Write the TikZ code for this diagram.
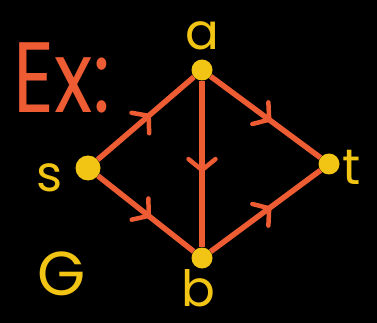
\documentclass[tikz,border=0pt]{standalone}
\usepackage{fontspec}
\setmainfont{Poppins}
\usetikzlibrary{arrows.meta,positioning,decorations.markings}
\definecolor{exorange}{RGB}{238,92,52}
\definecolor{exyellow}{RGB}{242,196,20}

\begin{document}
\begin{tikzpicture}[
  x=1pt, y=-1pt,
  vtx/.style={circle, fill=exyellow, inner sep=0pt, minimum size=21pt},
  lbl/.style={text=exyellow, inner sep=0pt, font=\fontsize{50}{50}\selectfont},
  edge/.style={exorange, line width=5.5pt,
    decoration={markings, mark=at position 0.55 with {\arrow{Straight Barb[length=11pt,width=27pt,line width=4.5pt,round]}}},
    postaction={decorate}}
]
\fill[black] (0,0) rectangle (377,323);
\useasboundingbox (0,0) rectangle (377,323);
% vertices
\node[vtx, minimum size=25pt] (s) at (88,168) {};
\node[vtx] (a) at (202,70) {};
\node[vtx] (t) at (329,164) {};
\node[vtx] (b) at (202,258) {};
% labels
\node[lbl, above=9pt of a] (alab) {a};
\node[lbl, left=13pt of s, yshift=-10pt] (slab) {s};
\node[lbl, right=3pt of t, yshift=-3pt] (tlab) {t};
\node[lbl, below=1pt of b, xshift=-4pt] (blab) {b};
\node[lbl, font=\fontsize{62}{62}\selectfont] (glab) at (62,274) {G};
\node[text=exorange, font=\fontsize{100}{100}\selectfont, xscale=0.8] (extitle) at (62,78) {Ex:};
% edges
\draw[edge] (s) -- (a);
\draw[edge] (s) -- (b);
\draw[edge] (a) -- (b);
\draw[edge] (a) -- (t);
\draw[edge] (b) -- (t);
\end{tikzpicture}
\end{document}
